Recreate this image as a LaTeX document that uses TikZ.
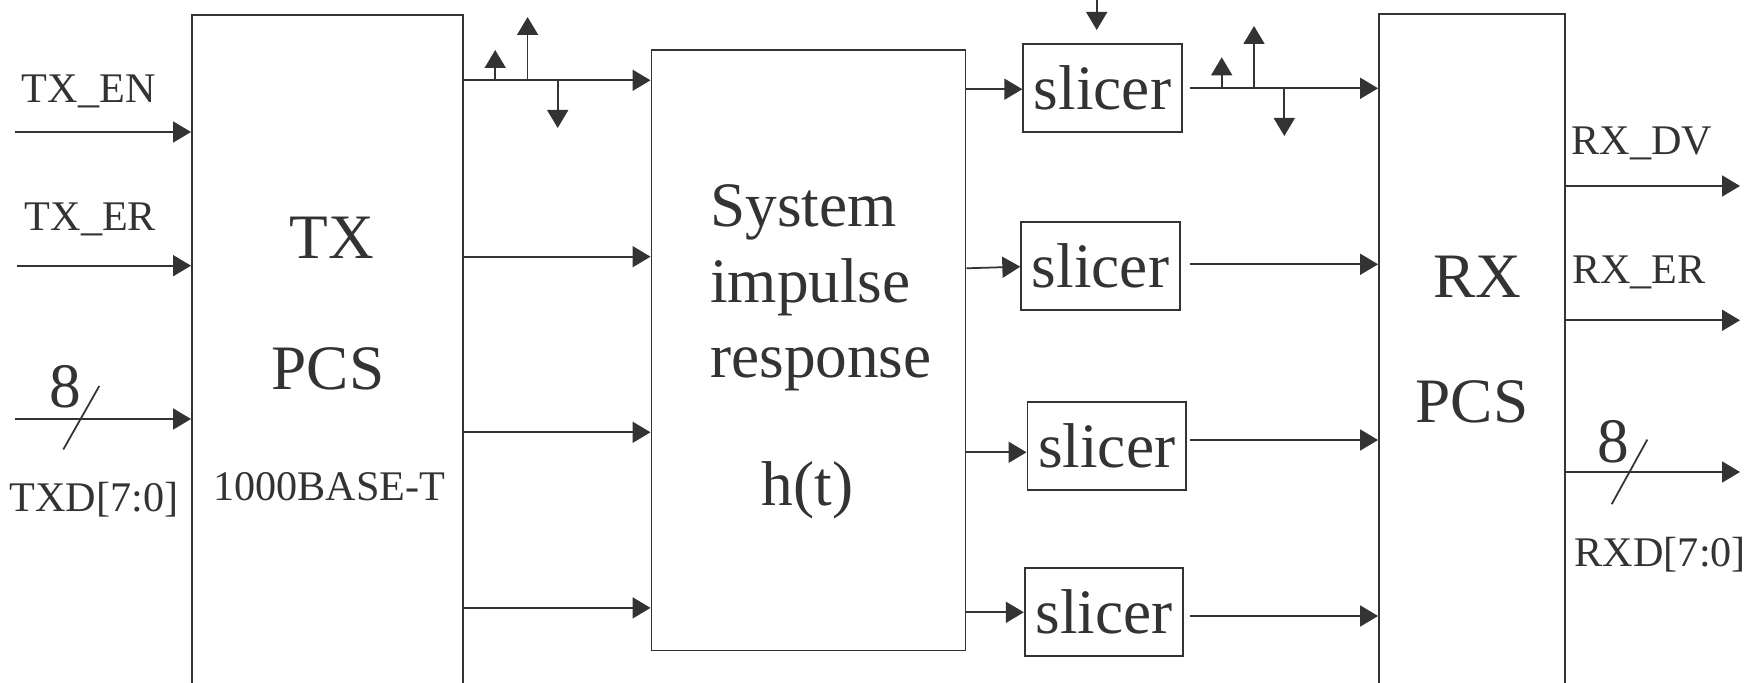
\documentclass[tikz,border=0pt]{standalone}
\usepackage{fontspec}
\setmainfont{Liberation Serif}
\usepackage{xcolor}
\usetikzlibrary{positioning, arrows.meta}
\definecolor{ink}{RGB}{51, 51, 51}

\begin{document}
\begin{tikzpicture}[x=0.01cm, y=-0.01cm,
    block/.style={draw=ink, line width=0.5pt, inner sep=0pt},
    slicerbox/.style={draw=ink, line width=0.5pt, inner sep=0pt, minimum width=1.585cm, minimum height=0.88cm, text=ink, font=\fontsize{18}{20}\selectfont},
    bigtext/.style={anchor=base, inner sep=0pt, text=ink, font=\fontsize{18}{20}\selectfont},
    sigtext/.style={anchor=base, inner sep=0pt, text=ink, font=\fontsize{12}{14}\selectfont},
    arrow/.style={-{Triangle[length=1.8mm, width=2.1mm]}, line width=0.5pt, draw=ink},
    line/.style={line width=0.5pt, draw=ink}
]
    \useasboundingbox (0,0) rectangle (1749,683);
    \clip (0,0) rectangle (1749,683);

    % Bloques
    \node (txpcs) [block, minimum width=2.71cm, minimum height=7.05cm] at (327.5,368) {};
    \node (sys) [block, minimum width=3.14cm, minimum height=6.0cm] at (808.5,350.3) {};
    \node (rxpcs) [block, minimum width=1.86cm, minimum height=7.06cm] at (1472,367.5) {};

    \node (s1) [slicerbox] at (1102.5,88.3) {slicer};
    \node (s2) [slicerbox] at (1100.5,266) {slicer};
    \node (s3) [slicerbox] at (1106.7,445.8) {slicer};
    \node (s4) [slicerbox] at (1104,612.2) {slicer};

    % Textos de los bloques
    \node (txname) [bigtext] at (332,258.3) {TX};
    \node (txpcsname) [bigtext] at (328,389.3) {PCS};
    \node (txstd) [sigtext] at (329.2,501) {1000BASE-T};
    \node (sysa) [bigtext, anchor=base west] at (709.5,226.7) {System};
    \node (sysb) [bigtext, anchor=base west] at (709.5,302.5) {impulse};
    \node (sysc) [bigtext, anchor=base west] at (709.5,378) {response};
    \node (sysh) [bigtext] at (807.5,506) {h(t)};
    \node (rxname) [bigtext] at (1477,297.3) {RX};
    \node (rxpcsname) [bigtext] at (1472,422.3) {PCS};

    % Etiquetas de las senales
    \node (lbten) [sigtext] at (88.7,102.4) {TX\_EN};
    \node (lbter) [sigtext] at (90.5,230.8) {TX\_ER};
    \node (lbtw) [bigtext] at (65.5,407.5) {8};
    \node (lbtxd) [sigtext] at (93.8,511.8) {TXD[7:0]};
    \node (lbrdv) [sigtext] at (1641.7,155) {RX\_DV};
    \node (lbrer) [sigtext] at (1639,283.8) {RX\_ER};
    \node (lbrw) [bigtext] at (1613.3,462.7) {8};
    \node (lbrxd) [sigtext] at (1660.3,566.5) {RXD[7:0]};

    % Entradas al TX PCS
    \coordinate (en) at (15,132);
    \coordinate (er) at (16.7,265.7);
    \coordinate (txd) at (15,419);
    \foreach \c in {en, er, txd}
        \draw[arrow] (\c) -- (\c -| txpcs.west);
    \draw[line] (99.3,386) -- (63.3,449.5);

    % TX PCS -> respuesta del sistema
    \foreach \y in {80.3, 256.7, 432.3, 607.9}
        \draw[arrow] (txpcs.east |- 0,\y) -- (sys.west |- 0,\y);
    \coordinate (ta) at (495.2,50);
    \coordinate (tb) at (527.6,17);
    \coordinate (tc) at (557.7,128);
    \foreach \c in {ta, tb, tc}
        \draw[arrow] (\c |- 0,80.3) -- (\c);

    % Respuesta del sistema -> slicers
    \draw[arrow] (sys.east |- 0,89.2) -- (s1.west |- 0,89.2);
    \draw[arrow] (sys.east |- 0,268.3) -- (s2.west |- 0,266.7);
    \draw[arrow] (sys.east |- 0,452.3) -- (s3.west |- 0,452.3);
    \draw[arrow] (sys.east |- 0,612.3) -- (s4.west |- 0,612.3);
    \coordinate (fb) at (1096.7,30);
    \draw[arrow] (fb |- 0,-5) -- (fb);

    % Slicers -> RX PCS
    \coordinate (o1) at (1189.5,88.3);
    \coordinate (o2) at (1189.5,264.3);
    \coordinate (o3) at (1189.5,440);
    \coordinate (o4) at (1189.5,616);
    \foreach \c in {o1, o2, o3, o4}
        \draw[arrow] (\c) -- (\c -| rxpcs.west);
    \coordinate (ra) at (1221.7,57.3);
    \coordinate (rb) at (1254,26);
    \coordinate (rc) at (1284.3,136);
    \foreach \c in {ra, rb, rc}
        \draw[arrow] (\c |- o1) -- (\c);

    % Salidas del RX PCS
    \coordinate (dv) at (1740,186);
    \coordinate (rer) at (1740,320.3);
    \coordinate (rxd) at (1740,472);
    \foreach \c in {dv, rer, rxd}
        \draw[arrow] (rxpcs.east |- \c) -- (\c);
    \draw[line] (1647.3,439.6) -- (1611.7,504.2);
\end{tikzpicture}
\end{document}
